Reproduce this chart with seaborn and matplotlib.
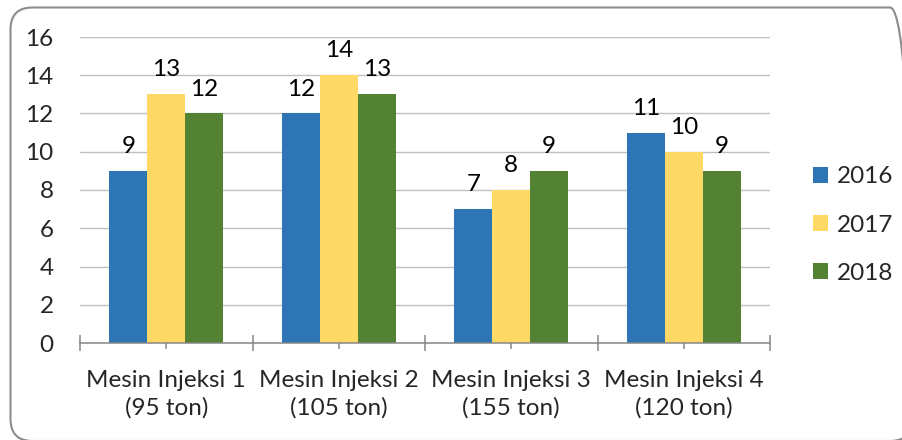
import matplotlib
matplotlib.use("Agg")
import matplotlib.pyplot as plt
from matplotlib.patches import FancyBboxPatch
from matplotlib.transforms import IdentityTransform
import seaborn as sns
import pandas as pd

# Production counts per injection machine and year
machines = ["Mesin Injeksi 1\n(95 ton)", "Mesin Injeksi 2\n(105 ton)",
            "Mesin Injeksi 3\n(155 ton)", "Mesin Injeksi 4\n(120 ton)"]
years = ["2016", "2017", "2018"]
values_2016 = [9, 12, 7, 11]
values_2017 = [13, 14, 8, 10]
values_2018 = [12, 13, 9, 9]
y_ticks = [0, 2, 4, 6, 8, 10, 12, 14, 16]

colors = ["#2E75B6", "#FFD966", "#548235"]

df = pd.DataFrame({
    "mesin": machines * 3,
    "tahun": [y for y in years for _ in machines],
    "nilai": values_2016 + values_2017 + values_2018,
})

sns.set_style("white")
plt.rcParams["font.family"] = ["Lato", "DejaVu Sans"]
FS = 17.5

W, H = 902, 440
fig = plt.figure(figsize=(W / 100, H / 100), dpi=100)
ax = fig.add_axes([80 / W, 1 - 343 / H, (770 - 80) / W, (343 - 37) / H])

sns.barplot(data=df, x="mesin", y="nilai", hue="tahun", palette=colors,
            saturation=1, width=0.66, linewidth=0, ax=ax, zorder=3)

ax.set_ylim(0, 16)
ax.set_xlim(-0.5, len(machines) - 0.5)
ax.set_yticks(y_ticks)
ax.set_yticklabels([str(t) for t in y_ticks], fontsize=FS)
ax.set_xlabel("")
ax.set_ylabel("")

ax.yaxis.grid(True, color="#BFBFBF", linewidth=1.0)
ax.set_axisbelow(True)
for side in ["left", "right", "top"]:
    ax.spines[side].set_visible(False)
ax.spines["bottom"].set_color("#868686")
ax.spines["bottom"].set_linewidth(1.1)
ax.spines["bottom"].set_zorder(4)

ax.tick_params(axis="y", length=0, pad=19)
ax.set_xticks(range(len(machines)))
ax.set_xticklabels(machines, fontsize=FS, linespacing=1.35)
ax.set_xticks([i - 0.5 for i in range(len(machines) + 1)], minor=True)
ax.tick_params(axis="x", which="major", bottom=True, direction="inout",
               length=9, width=1.1, color="#868686", pad=15)
ax.tick_params(axis="x", which="minor", bottom=True, direction="inout",
               length=11.5, width=1.1, color="#868686")

for container in ax.containers:
    ax.bar_label(container, fmt="%d", padding=10, fontsize=FS, color="#000000")

handles, labels = ax.get_legend_handles_labels()
ax.legend(handles, labels, loc="center left",
          bbox_to_anchor=(813 / W, 1 - 225 / H),
          bbox_transform=fig.transFigure, frameon=False, fontsize=FS,
          handlelength=0.62, handleheight=0.62, handletextpad=0.35,
          labelspacing=1.12, borderpad=0, borderaxespad=0, title=None)

# rounded outer frame of the chart area
frame = FancyBboxPatch((10.5, H - 441), 912 - 10.5, 441 - 7.5,
                       boxstyle="round,pad=0,rounding_size=22",
                       transform=IdentityTransform(), facecolor="none",
                       edgecolor="#8C8C8C", linewidth=1.5, clip_on=False)
fig.patches.append(frame)

fig.savefig("out.png", dpi=100, facecolor="white")
